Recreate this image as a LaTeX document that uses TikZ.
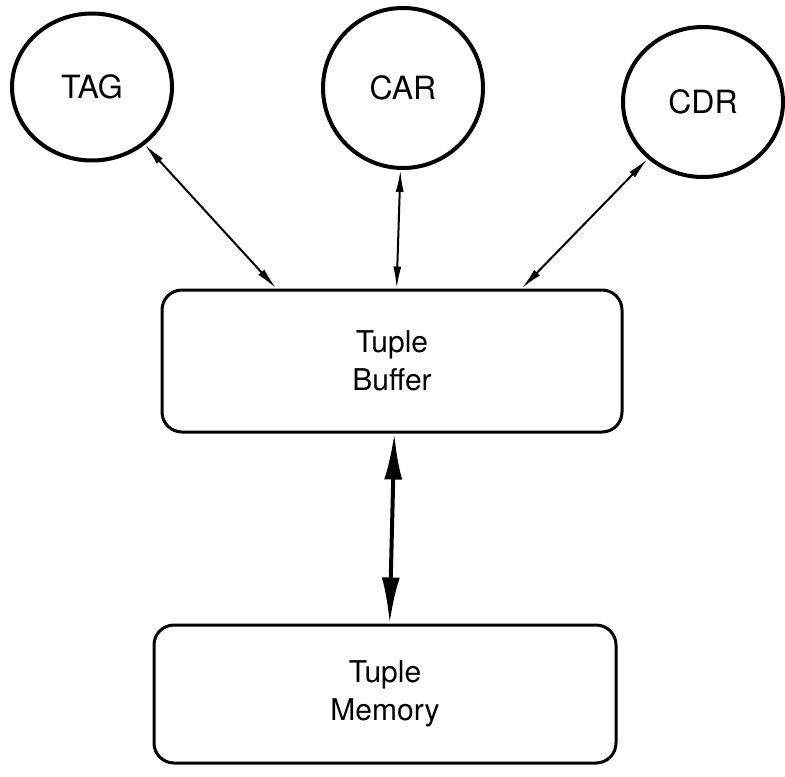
\documentclass[tikz,border=0pt]{standalone}
\usepackage{fontspec}
\setmainfont{TeX Gyre Heros}
\usetikzlibrary{shapes.geometric,arrows.meta,calc}
\tikzset{
   reg/.style={ellipse, draw, line width=2pt, inner sep=0pt, font=\fontsize{16}{19}\selectfont},
   unit/.style={draw, rounded corners=10pt, line width=1.5pt, align=center, inner sep=0pt},
   link/.style={arrows={Latex[length=11pt,width=4pt]-Latex[length=11pt,width=4pt]}, line width=1pt},
   bus/.style={arrows={Latex[length=23pt,width=9pt]-Latex[length=23pt,width=9pt]}, line width=2pt}
}

\begin{document}
\begin{tikzpicture}[x=0.5pt,y=-0.5pt,font=\fontsize{15}{19}\selectfont]
\useasboundingbox (0,0) rectangle (785,776);
\node[reg, minimum width=80pt, minimum height=73.5pt] (tag) at (92,87) {TAG};
\node[reg, minimum width=80pt, minimum height=80pt] (car) at (403,88) {CAR};
\node[reg, minimum width=80pt, minimum height=75pt] (cdr) at (703,102) {CDR};
\node[unit, minimum width=230pt, minimum height=71pt] (buf) at (392,361) {Tuple\\Buffer};
\node[unit, minimum width=231pt, minimum height=69pt] (mem) at (385,694) {Tuple\\Memory};
\draw[link] (tag) -- ($(buf.north west)!0.25!(buf.north east)$);
\draw[link] (car) -- ($(buf.north west)!0.51!(buf.north east)$);
\draw[link] (cdr) -- ($(buf.north west)!0.78!(buf.north east)$);
\draw[bus] ($(buf.south west)!0.505!(buf.south east)$) -- ($(mem.north west)!0.51!(mem.north east)$);
\end{tikzpicture}
\end{document}
